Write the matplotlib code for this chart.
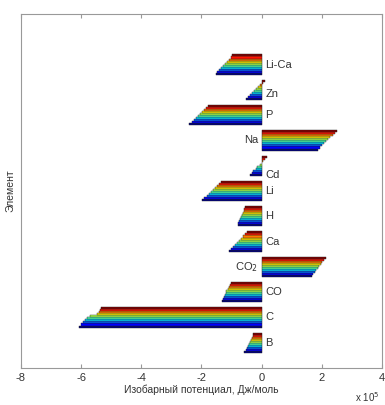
"""
Grouped horizontal bars: isobaric potential per element, several temperatures
"""

import numpy as np
import matplotlib.pyplot as plt

plt.rcParams['font.family'] = ['Liberation Sans', 'DejaVu Sans']

# categories, bottom to top
elements = ['B', 'C', 'CO', 'CO$_2$', 'Ca', 'H', 'Li', 'Cd', 'Na', 'P', 'Zn', 'Li-Ca']

# values in units of 1e5 J/mol, series 1 (dark blue) .. series 10 (dark red)
g_B = [-0.57, -0.53, -0.50, -0.46, -0.42, -0.39, -0.35, -0.32, -0.29, -0.27]
g_C = [-6.07, -6.00, -5.93, -5.86, -5.80, -5.72, -5.48, -5.40, -5.36, -5.33]
g_CO = [-1.33, -1.30, -1.26, -1.23, -1.20, -1.17, -1.13, -1.10, -1.06, -1.03]
g_CO2 = [1.67, 1.72, 1.77, 1.82, 1.87, 1.92, 1.97, 2.02, 2.07, 2.13]
g_Ca = [-1.10, -1.03, -0.96, -0.89, -0.82, -0.75, -0.68, -0.61, -0.54, -0.47]
g_H = [-0.80, -0.77, -0.74, -0.72, -0.69, -0.66, -0.63, -0.60, -0.58, -0.55]
g_Li = [-1.97, -1.90, -1.83, -1.76, -1.69, -1.62, -1.55, -1.49, -1.42, -1.35]
g_Cd = [-0.40, -0.33, -0.27, -0.20, -0.14, -0.07, 0.00, 0.05, 0.11, 0.17]
g_Na = [1.87, 1.94, 2.01, 2.08, 2.15, 2.22, 2.29, 2.36, 2.43, 2.50]
g_P = [-2.40, -2.33, -2.26, -2.19, -2.12, -2.05, -1.98, -1.91, -1.84, -1.77]
g_Zn = [-0.53, -0.46, -0.39, -0.32, -0.25, -0.18, -0.11, -0.04, 0.03, 0.10]
g_LiCa = [-1.53, -1.47, -1.41, -1.34, -1.28, -1.22, -1.16, -1.10, -1.03, -0.97]

x_ticks = [-8, -6, -4, -2, 0, 2, 4]

table = np.array([g_B, g_C, g_CO, g_CO2, g_Ca, g_H, g_Li, g_Cd, g_Na, g_P, g_Zn, g_LiCa])
n_cat, n_ser = table.shape

fig = plt.figure(figsize=(3.85, 4.05), dpi=100)
ax = fig.add_axes([0.0545, 0.0914, 0.9375, 0.874])

colors = plt.cm.jet(np.linspace(0, 1, n_ser))
group_h = 0.8
bar_h = group_h / n_ser
pos = np.arange(1, n_cat + 1)

for j in range(n_ser):
    y = pos - group_h / 2 + bar_h * (j + 0.5)
    ax.barh(y, table[:, j], height=bar_h, color=colors[j], edgecolor='#202020', linewidth=0.3)

# category labels beside the zero line
label_y = {'Cd': 7.65, 'Zn': 10.85}
for i, name in enumerate(elements):
    yy = label_y.get(name, pos[i])
    if table[i].max() > 0.5:
        ax.text(-0.12, yy, name, ha='right', va='center', fontsize=8, color='#333333')
    else:
        ax.text(0.12, yy, name, ha='left', va='center', fontsize=8, color='#333333')

ax.set_xlim(-8, 4)
ax.set_ylim(0, 14)
ax.set_xticks(x_ticks)
ax.set_xticklabels([str(t) for t in x_ticks], fontsize=8, color='#333333')
ax.set_yticks([])
ax.tick_params(axis='x', direction='in', length=3, color='#999999', top=True)
for s in ax.spines.values():
    s.set_color('#999999')
    s.set_linewidth(0.8)

ax.set_xlabel('Изобарный потенциал, Дж/моль', fontsize=7.5, color='#333333', labelpad=1)
ax.set_ylabel('Элемент', fontsize=7.5, color='#333333', labelpad=4)
fig.text(0.985, 0.008, 'x 10$^5$', fontsize=7, color='#333333', ha='right')

plt.savefig('out.png', dpi=100, facecolor='white')
plt.close()
